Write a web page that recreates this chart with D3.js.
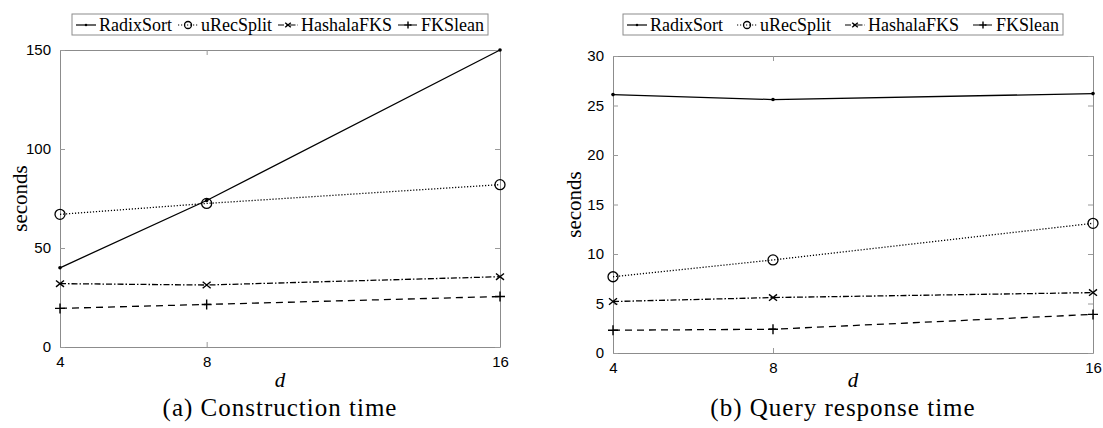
<!DOCTYPE html>
<html lang="en">
  <head>
    <meta charset="UTF-8" />
    <title>Construction and query time</title>
    <script src="https://d3js.org/d3.v7.min.js"></script>
    <style>
      body { margin: 0; background: #fff; }
      .tick text { font-family: "Liberation Sans", Arial, sans-serif; font-size: 15px; fill: #000; }
      .serif { font-family: "Liberation Serif", "Times New Roman", serif; fill: #000; }
    </style>
  </head>
  <body>
    <svg id="chart" width="1103" height="428"></svg>
    <script>
      const dVals = [4, 8, 16];
      const seriesNames = ["RadixSort", "uRecSplit", "HashalaFKS", "FKSlean"];

      const constRadix = [40, 74, 150];
      const constURec = [67, 72.5, 82];
      const constHashala = [32, 31.3, 35.5];
      const constFks = [19.5, 21.5, 25.5];

      const queryRadix = [26.1, 25.6, 26.2];
      const queryURec = [7.7, 9.4, 13.1];
      const queryHashala = [5.2, 5.6, 6.1];
      const queryFks = [2.3, 2.4, 3.9];

      const constTicks = [0, 50, 100, 150];
      const queryTicks = [0, 5, 10, 15, 20, 25, 30];

      const styles = {
        RadixSort: { dash: null, marker: "dot" },
        uRecSplit: { dash: "1.2,1.8", marker: "circle" },
        HashalaFKS: { dash: "6,2,1.5,2", marker: "cross" },
        FKSlean: { dash: "7,5", marker: "plus" }
      };

      const svg = d3.select("#chart");

      function drawMarker(g, type, x, y, s) {
        if (type === "dot") {
          g.append("circle").attr("cx", x).attr("cy", y).attr("r", 1.8 * s).attr("fill", "#000");
        } else if (type === "circle") {
          g.append("circle").attr("cx", x).attr("cy", y).attr("r", 5 * s)
            .attr("fill", "none").attr("stroke", "#000").attr("stroke-width", 1.3);
        } else if (type === "cross") {
          const r = 4 * s;
          g.append("path").attr("d", `M${x - r},${y - r * 0.8}L${x + r},${y + r * 0.8}M${x - r},${y + r * 0.8}L${x + r},${y - r * 0.8}`)
            .attr("stroke", "#000").attr("stroke-width", 1.4);
        } else if (type === "plus") {
          const r = 5 * s;
          g.append("path").attr("d", `M${x - r},${y}L${x + r},${y}M${x},${y - r}L${x},${y + r}`)
            .attr("stroke", "#000").attr("stroke-width", 1.4);
        }
      }

      function panel(cfg) {
        const g = svg.append("g");
        const x = d3.scaleLinear().domain([4, 16]).range([cfg.left, cfg.right]);
        const y = d3.scaleLinear().domain([0, cfg.ymax]).range([cfg.bottom, cfg.top]);

        // frame with mirrored inward ticks
        const axes = [
          [d3.axisBottom(x).tickValues(dVals), `translate(0,${cfg.bottom})`, true],
          [d3.axisTop(x).tickValues(dVals), `translate(0,${cfg.top})`, false],
          [d3.axisLeft(y).tickValues(cfg.ticks), `translate(${cfg.left},0)`, true],
          [d3.axisRight(y).tickValues(cfg.ticks), `translate(${cfg.right},0)`, false]
        ];
        axes.forEach(([ax, tr, labels]) => {
          const a = g.append("g").attr("transform", tr)
            .call(ax.tickSizeInner(-5).tickSizeOuter(0).tickPadding(labels ? 9 : 0).tickFormat(labels ? d3.format("d") : ""));
          a.select(".domain").attr("stroke", "#8c8c8c");
          a.selectAll(".tick line").attr("stroke", "#9a9a9a");
        });
        g.selectAll(".tick text").attr("fill", "#000");

        const series = [cfg.radix, cfg.urec, cfg.hashala, cfg.fks];
        const line = d3.line().x((d, i) => x(dVals[i])).y(d => y(d));
        series.forEach((vals, k) => {
          const st = styles[seriesNames[k]];
          g.append("path").datum(vals).attr("d", line)
            .attr("fill", "none").attr("stroke", "#000").attr("stroke-width", 1.3)
            .attr("stroke-dasharray", st.dash);
          vals.forEach((v, i) => drawMarker(g, st.marker, x(dVals[i]), y(v), 1));
        });

        // axis titles
        const cx = (cfg.left + cfg.right) / 2;
        g.append("text").attr("class", "serif")
          .attr("transform", `translate(${cfg.ylabX},${(cfg.top + cfg.bottom) / 2}) rotate(-90)`)
          .attr("text-anchor", "middle").attr("dy", "0.35em")
          .style("font-size", "21px").text("seconds");
        g.append("text").attr("class", "serif").attr("x", cx).attr("y", 387)
          .attr("text-anchor", "middle").style("font-size", "21px").style("font-style", "italic").text("d");
        g.append("text").attr("class", "serif").attr("x", cfg.capX).attr("y", 416)
          .attr("text-anchor", "middle").style("font-size", "25px").style("letter-spacing", "1px")
          .text(cfg.caption);

        // legend: samples and names spread over the box width
        const lg = g.append("g");
        const ly = 25;
        const sampleW = 20;
        const texts = seriesNames.map(name => lg.append("text").attr("class", "serif")
          .attr("y", ly + 6).style("font-size", "18px").text(name));
        const textW = texts.map(t => t.node().getComputedTextLength());
        const gap = (cfg.legW - 8 - 4 * (sampleW + 3) - d3.sum(textW)) / 3;
        let lx = cfg.legX + 4;
        seriesNames.forEach((name, k) => {
          const st = styles[name];
          lg.append("line").attr("x1", lx).attr("x2", lx + sampleW).attr("y1", ly).attr("y2", ly)
            .attr("stroke", "#000").attr("stroke-width", 1.2).attr("stroke-dasharray", st.dash);
          drawMarker(lg, st.marker, lx + sampleW / 2, ly, 0.7);
          lx += sampleW + 3;
          texts[k].attr("x", lx);
          lx += textW[k] + gap;
        });
        lg.insert("rect", ":first-child").attr("x", cfg.legX).attr("y", 14)
          .attr("width", cfg.legW).attr("height", 21)
          .attr("fill", "#fff").attr("stroke", "#8c8c8c").attr("stroke-width", 1);
      }

      panel({
        left: 60, right: 500, top: 50, bottom: 347, ymax: 150, ticks: constTicks,
        radix: constRadix, urec: constURec, hashala: constHashala, fks: constFks,
        ylabX: 20, capX: 280, caption: "(a) Construction time", legX: 72, legW: 416
      });
      panel({
        left: 613, right: 1093, top: 56, bottom: 353, ymax: 30, ticks: queryTicks,
        radix: queryRadix, urec: queryURec, hashala: queryHashala, fks: queryFks,
        ylabX: 574, capX: 843, caption: "(b) Query response time", legX: 623, legW: 440
      });
    </script>
  </body>
</html>
